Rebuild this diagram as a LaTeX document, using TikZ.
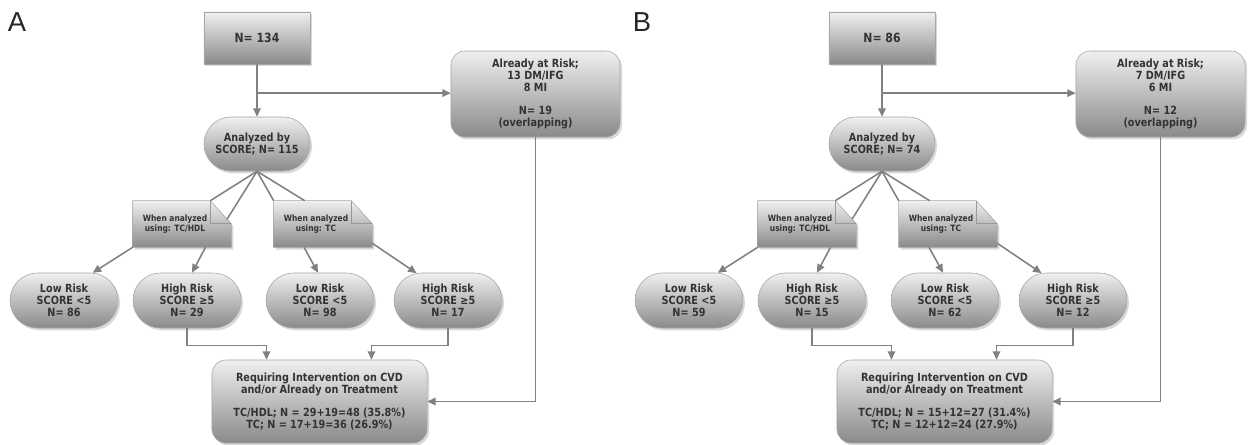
\documentclass[tikz,border=0pt]{standalone}
\usepackage{fontspec}
\setmainfont{DejaVu Sans}[FakeStretch=0.86]
\newfontfamily\lblfont{Liberation Sans}
\usetikzlibrary{arrows.meta, shapes.misc, shadows, calc}

\begin{document}
\begin{tikzpicture}[x=0.025cm, y=-0.025cm,
    shade/.style={draw=black!35, top color=black!6, bottom color=black!46,
      drop shadow={shadow xshift=0.05cm, shadow yshift=-0.06cm, opacity=0.3}},
    box/.style={shade, text=black!80, align=center, inner sep=0pt,
      font=\bfseries\fontsize{8}{8.4}\selectfont},
    sqbox/.style={box, rectangle, minimum width=2.65cm, minimum height=1.3cm,
      font=\bfseries\fontsize{9}{9.5}\selectfont},
    rbox/.style={box, rectangle, rounded corners=0.35cm},
    pill/.style={box, rounded rectangle, minimum width=2.7cm, minimum height=1.375cm},
    notetext/.style={text=black!80, align=center, font=\bfseries\fontsize{6.2}{7.1}\selectfont},
    conn/.style={draw=black!50, line width=1.1pt},
    arr/.style={conn, -{Triangle[length=0.21cm, width=0.19cm]}},
  ]
	\useasboundingbox (0,0) rectangle (1251,445);
	% one panel per study group
	\foreach \pnl/\dx/\ntot/\ndm/\nmi/\nrisk/\nscore/\la/\ha/\lb/\hb/\ra/\rb in
	  {A/0/134/13/8/19/115/86/29/98/17/{29+19=48 (35.8\%)}/{17+19=36 (26.9\%)},
	   B/625/86/7/6/12/74/59/15/62/12/{15+12=27 (31.4\%)}/{12+12=24 (27.9\%)}}
	{
	\begin{scope}[shift={(\dx,0)}, name prefix=\pnl-]
		\node[text=black!85, font=\lblfont\fontsize{19.5}{20}\selectfont] (lbl) at (17,22) {\pnl};
		\node[sqbox] (top) at (257,38) {N= \ntot};
		\node[rbox, minimum width=4.225cm, minimum height=2.15cm] (already) at (535.5,94)
			{Already at Risk;\\\ndm{} DM/IFG\\\nmi{} MI\\[8.4pt]N= \nrisk\\(overlapping)};
		\node[pill, minimum width=2.65cm, minimum height=1.35cm] (ana) at (257,144) {Analyzed by\\SCORE; N= \nscore};
		% notes with folded corner
		\node[minimum width=2.45cm, minimum height=1.15cm, inner sep=0pt] (n1) at (182,224) {};
		\path[shade] (n1.south west) -- (n1.north west) -- ($(n1.north east)+(-21,0)$) coordinate (f1a)
			-- ($(n1.north east)+(0,23)$) coordinate (f1b) -- (n1.south east) -- cycle;
		\draw[black!40] (f1a) -- ($(f1a)+(0,23)$) -- (f1b);
		\node[notetext] (t1) at (175,224) {When analyzed\\using: TC/HDL};
		\node[minimum width=2.45cm, minimum height=1.15cm, inner sep=0pt] (n2) at (323,224) {};
		\path[shade] (n2.south west) -- (n2.north west) -- ($(n2.north east)+(-21,0)$) coordinate (f2a)
			-- ($(n2.north east)+(0,23)$) coordinate (f2b) -- (n2.south east) -- cycle;
		\draw[black!40] (f2a) -- ($(f2a)+(0,23)$) -- (f2b);
		\node[notetext] (t2) at (316,224) {When analyzed\\using: TC};
		% risk groups
		\node[pill] (lr1) at (64,300.5) {Low Risk\\SCORE <5\\N= \la};
		\node[pill] (hr1) at (187,300.5) {High Risk\\SCORE ≥5\\N= \ha};
		\node[pill] (lr2) at (320,300.5) {Low Risk\\SCORE <5\\N= \lb};
		\node[pill] (hr2) at (448,300.5) {High Risk\\SCORE ≥5\\N= \hb};
		\node[rbox, minimum width=5.375cm, minimum height=2.075cm] (req) at (319.5,401.5)
			{Requiring Intervention on CVD\\and/or Already on Treatment\\[8.4pt]TC/HDL; N = \ra\\TC; N = \rb};
		% connectors
		\draw[arr] (top) -- (ana);
		\coordinate (br) at ($(top.south)!0.55!(ana.north)$);
		\draw[arr] (br) -- (br -| already.west);
		\draw[conn] (ana.south) -- (f1a);
		\draw[conn] (ana.south) -- ($(f1a)!0.8!(f1b)$);
		\draw[conn] (ana.south) -- (n2.north west);
		\draw[conn] (ana.south) -- ($(n2.north west)+(31,0)$);
		\draw[arr] (n1.south west) -- (lr1.44);
		\draw[arr] ($(n1.south)+(23.5,0)$) -- ($(hr1.north)+(5,0)$);
		\draw[arr] ($(n2.south)+(-19,0)$) -- ($(lr2.north)+(-2,0)$);
		\draw[arr] ($(n2.south east)+(0,-4)$) -- (hr2.139);
		\draw[arr] (hr1.south) -- ++(0,17) -| ($(req.north)+(-53,0)$);
		\draw[arr] (hr2.south) -- ++(0,17) -| ($(req.north)+(52,0)$);
		\draw[arr] (already.south) |- (req.east);
	\end{scope}
	}
\end{tikzpicture}
\end{document}
